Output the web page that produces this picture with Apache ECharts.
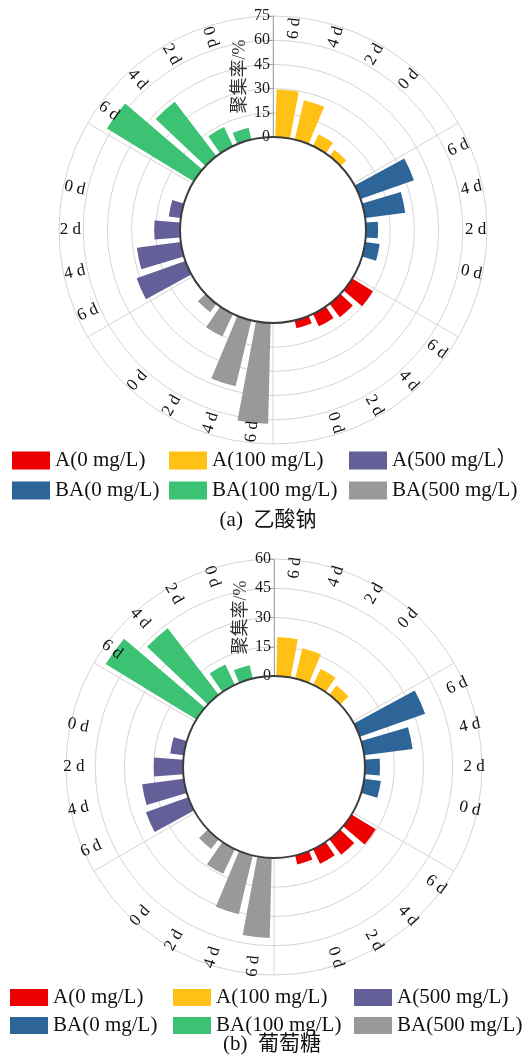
<!DOCTYPE html>
<html>
<head>
<meta charset="utf-8">
<script src="https://cdn.jsdelivr.net/npm/echarts@6/dist/echarts.min.js"></script>
<style>
  html, body { margin: 0; padding: 0; background: #fff; }
  #chart { width: 529px; height: 1062px; }
</style>
</head>
<body>
<div id="chart"></div>
<script>
// Sampling days, listed clockwise inside every group
const dayLabels = ['6 d', '4 d', '2 d', '0 d'];

// 乙酸钠 — aggregation rate (%), in the order 6 d, 4 d, 2 d, 0 d
const acetateA0    = [15, 10.5, 8.5, 5];
const acetateA100  = [29.5, 25, 8, 5];
const acetateA500  = [32, 27.5, 16, 7.5];
const acetateBA0   = [35, 25, 7.5, 9];
const acetateBA100 = [63, 42.5, 13, 7.5];
const acetateBA500 = [62.5, 42, 15.5, 6.5];

// 葡萄糖 — aggregation rate (%), in the order 6 d, 4 d, 2 d, 0 d
const glucoseA0    = [14.5, 10, 8.3, 4.7];
const glucoseA100  = [20, 16, 9, 6];
const glucoseA500  = [23, 21.5, 15, 7];
const glucoseBA0   = [35.5, 25, 7.7, 8.6];
const glucoseBA100 = [54.5, 43, 11.5, 7];
const glucoseBA500 = [41, 31, 14, 6.3];

const acetateNames = ['A(0 mg/L)', 'A(100 mg/L)', 'A(500 mg/L）', 'BA(0 mg/L)', 'BA(100 mg/L)', 'BA(500 mg/L)'];
const glucoseNames = ['A(0 mg/L)', 'A(100 mg/L)', 'A(500 mg/L)', 'BA(0 mg/L)', 'BA(100 mg/L)', 'BA(500 mg/L)'];
const acetateValues = [acetateA0, acetateA100, acetateA500, acetateBA0, acetateBA100, acetateBA500];
const glucoseValues = [glucoseA0, glucoseA100, glucoseA500, glucoseBA0, glucoseBA100, glucoseBA500];

const seriesColors = ['#EE0000', '#FFC116', '#635F98', '#2E6598', '#3BC273', '#999999'];
// group order clockwise from 12 o'clock (indices into the name lists)
const ringOrder = [1, 3, 0, 5, 2, 4];
const SLOTS = 5; // four days plus one empty slot per group

const SERIF = '"Liberation Serif", "Times New Roman", "Noto Sans CJK SC", serif';

function buildPanel(p, names, values, labelRadius) {
  const cats = [];
  ringOrder.forEach(gi => {
    dayLabels.forEach(d => cats.push(names[gi] + ' ' + d));
    cats.push(names[gi] + ' ·');
  });
  const series = names.map((name, si) => {
    const slot = ringOrder.indexOf(si);
    const data = cats.map(() => '-');
    values[si].forEach((v, k) => { data[slot * SLOTS + k] = v; });
    return {
      type: 'bar', coordinateSystem: 'polar', polarIndex: p, name: name, data: data,
      itemStyle: { color: seriesColors[si] }, barGap: '-100%', barCategoryGap: '24%',
      silent: true, animation: false
    };
  });
  const labelData = [];
  ringOrder.forEach((gi, slot) => dayLabels.forEach((d, k) => labelData.push([labelRadius, slot * SLOTS + k])));
  series.push({
    type: 'custom', coordinateSystem: 'polar', polarIndex: p, data: labelData,
    silent: true, animation: false, z: 5,
    renderItem: function (params, api) {
      const pt = api.coord([api.value(0), api.value(1)]);
      const cs = params.coordSys;
      let rot = Math.atan2(-(pt[1] - cs.cy), pt[0] - cs.cx);
      if (rot > Math.PI / 2) rot -= Math.PI;
      else if (rot < -Math.PI / 2) rot += Math.PI;
      return {
        type: 'text', x: pt[0], y: pt[1], rotation: rot,
        style: {
          text: dayLabels[params.dataIndex % 4], fill: '#111',
          fontSize: 17, fontFamily: SERIF, align: 'center', verticalAlign: 'middle'
        }
      };
    }
  });
  return { cats, series };
}

const acetatePanel = buildPanel(0, acetateNames, acetateValues, 68);
const glucosePanel = buildPanel(2, glucoseNames, glucoseValues, 56);

function angleMain(p, cats) {
  return {
    polarIndex: p, type: 'category', data: cats, startAngle: 90, clockwise: true, boundaryGap: true,
    axisLine: { show: false }, axisTick: { show: false, interval: 4 }, axisLabel: { show: false },
    splitLine: { show: true, interval: 4, lineStyle: { color: '#d4d4d4', width: 1 } }
  };
}
function angleRim(p) {
  return {
    polarIndex: p, type: 'value', min: 0, max: 360, startAngle: 90, z: 10,
    axisLine: { show: true, lineStyle: { color: '#3c3c3c', width: 2 } },
    axisTick: { show: false }, axisLabel: { show: false }, splitLine: { show: false }
  };
}
function radiusMain(p, max) {
  return {
    polarIndex: p, type: 'value', min: 0, max: max, interval: 15,
    axisLine: { show: true, lineStyle: { color: '#a8a8a8', width: 1 } },
    axisTick: { show: true, length: 5, lineStyle: { color: '#a8a8a8' } },
    axisLabel: { fontSize: 16, color: '#1a1a1a', fontFamily: SERIF, margin: 3 },
    splitLine: { show: true, lineStyle: { color: '#d4d4d4', width: 1 } },
    name: '聚集率/%', nameLocation: 'middle', nameRotate: 90, nameGap: -42, nameMoveOverlap: false,
    nameTextStyle: { fontSize: 18, color: '#333', fontFamily: SERIF }
  };
}
function radiusRim(p) {
  return { polarIndex: p, type: 'value', min: 0, max: 1, show: false };
}

function legendColumn(names, left, topPx, h, gap) {
  return {
    data: names, orient: 'vertical', left: left, top: topPx, padding: 0,
    itemWidth: 38, itemHeight: h, itemGap: gap, icon: 'rect', selectedMode: false,
    textStyle: { fontSize: 21, fontFamily: SERIF, color: '#111' }
  };
}

const option = {
  backgroundColor: '#fff',
  animation: false,
  title: [
    { text: '(a)  乙酸钠', left: 268, top: 510, textAlign: 'center', padding: 0,
      textStyle: { fontSize: 21, fontWeight: 'normal', color: '#111', fontFamily: SERIF } },
    { text: '(b)  葡萄糖', left: 272, top: 1034, textAlign: 'center', padding: 0,
      textStyle: { fontSize: 21, fontWeight: 'normal', color: '#111', fontFamily: SERIF } }
  ],
  polar: [
    { center: [273, 230], radius: [93, 214] },
    { center: [273, 230], radius: [0, 93] },
    { center: [274, 767], radius: [91, 208] },
    { center: [274, 767], radius: [0, 91] }
  ],
  angleAxis: [angleMain(0, acetatePanel.cats), angleRim(1), angleMain(2, glucosePanel.cats), angleRim(3)],
  radiusAxis: [radiusMain(0, 75), radiusRim(1), radiusMain(2, 60), radiusRim(3)],
  legend: [
    legendColumn([acetateNames[0], acetateNames[3]], 12, 450, 18, 9),
    legendColumn([acetateNames[1], acetateNames[4]], 169, 450, 18, 9),
    legendColumn([acetateNames[2], acetateNames[5]], 349, 450, 18, 9),
    legendColumn([glucoseNames[0], glucoseNames[3]], 10, 987, 17, 7),
    legendColumn([glucoseNames[1], glucoseNames[4]], 173, 987, 17, 7),
    legendColumn([glucoseNames[2], glucoseNames[5]], 354, 987, 17, 7)
  ],
  series: acetatePanel.series.concat(glucosePanel.series)
};

const chart = echarts.init(document.getElementById('chart'), null, { renderer: 'canvas' });
chart.setOption(option);
</script>
</body>
</html>
